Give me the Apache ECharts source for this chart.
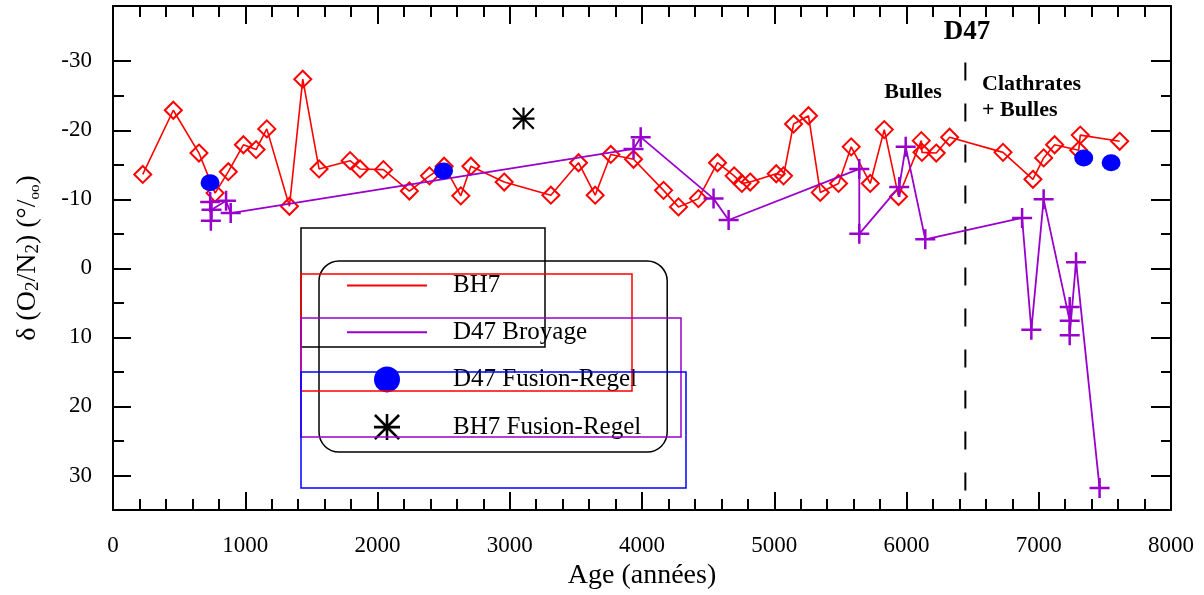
<!DOCTYPE html>
<html>
<head>
<meta charset="utf-8">
<script src="https://cdn.jsdelivr.net/npm/echarts@6/dist/echarts.min.js"></script>
<style>html,body{margin:0;padding:0;background:#fff}#c{width:1204px;height:595px}</style>
</head>
<body>
<div id="c"></div>
<script>
// ---- data ----
const bh7Age = [225,456,650,772,872,986,1082,1163,1334,1435,1558,1793,1868,2045,2241,2393,2504,2630,2706,2958,3311,3520,3646,3764,3936,4163,4276,4427,4571,4697,4755,4818,5015,5070,5146,5259,5348,5486,5582,5726,5832,5940,6112,6117,6225,6326,6730,6956,7037,7120,7302,7314,7612];
const bh7Val = [-13.6,-22.9,-16.7,-10.9,-14.0,-17.9,-17.2,-20.2,-9.0,-27.4,-14.4,-15.6,-14.4,-14.3,-11.2,-13.4,-14.8,-10.5,-14.8,-12.5,-10.6,-15.3,-10.6,-16.5,-15.8,-11.3,-8.9,-10.1,-15.3,-13.4,-12.3,-12.5,-13.7,-13.4,-20.9,-22.1,-11.0,-12.3,-17.6,-12.3,-20.1,-10.4,-18.5,-16.8,-16.7,-19.0,-16.8,-12.9,-16.0,-17.9,-17.1,-19.3,-18.4];
const broyAge = [735,740,745,855,890,3936,3990,4541,4655,5643,5643,5945,5994,6142,6874,6944,7037,7234,7234,7234,7282,7460];
const broyVal = [-9.6,-6.9,-8.5,-9.8,-8.0,-17.3,-19.0,-10.1,-7.0,-14.4,-5.0,-11.8,-17.6,-4.2,-7.3,8.9,-10.0,7.6,5.6,9.7,-0.9,31.8];
const fusD47Age = [734,2499,7340,7547];
const fusD47Val = [-12.4,-14.1,-16.0,-15.3];
const fusBH7Age = [3104];
const fusBH7Val = [-21.7];
const d47Boundary = [6445];
const boundaryY = [-29.8, 35];
const yMajor = [-30,-20,-10,0,10,20,30];
const yMinor = [-25,-15,-5,5,15,25];
const seriesNames = ['BH7','D47 Broyage','D47 Fusion-Regel','BH7 Fusion-Regel'];

const pairs = (a,b) => a.map((x,i)=>[x,b[i]]);
const FONT = 'Liberation Serif';
const RED = '#ff0000', PURPLE = '#9900cc', BLUE = '#0000ff';
const plusPath = 'path://M0,7H7V0H9V7H16V9H9V16H7V9H0Z';
const starPath = 'path://M9,0H11V20H9Z M0,9H20V11H0Z M1.4,0L20,18.6L18.6,20L0,1.4Z M18.6,0L20,1.4L1.4,20L0,18.6Z';

const chart = echarts.init(document.getElementById('c'), null, {renderer:'canvas'});

function yAx(pos, vals, len, labels, name) {
  return {
    type:'value', min:-38, max:35, inverse:true, position:pos,
    axisLine:{show:len>15, lineStyle:{color:'#000', width:2}},
    axisTick:{show:true, inside:true, length:len, customValues:vals, lineStyle:{color:'#000', width:2}},
    axisLabel:{show:!!labels, customValues:vals, margin:21, fontSize:23, fontFamily:FONT, color:'#000'},
    splitLine:{show:false},
    name: name || '', nameLocation:'middle', nameRotate:90, nameGap:70,
    nameTextStyle:{color:'#000', fontFamily:FONT, fontSize:28,
      rich:{
        t:{fontFamily:FONT, fontSize:28, lineHeight:30, color:'#000'},
        s:{fontFamily:FONT, fontSize:19, lineHeight:10, verticalAlign:'bottom', color:'#000'},
        o:{fontFamily:FONT, fontSize:15, lineHeight:12, verticalAlign:'bottom', color:'#000'}
      }}
  };
}
function xAx(pos, labels, name) {
  return {
    type:'value', min:0, max:8000, interval:1000, position:pos,
    axisLine:{show:true, onZero:false, lineStyle:{color:'#000', width:2}},
    axisTick:{show:true, inside:true, length:18, lineStyle:{color:'#000', width:2}},
    minorTick:{show:true, splitNumber:5, length:11, lineStyle:{color:'#000', width:2}},
    axisLabel:{show:labels, margin:24, fontSize:23, fontFamily:FONT, color:'#000', formatter:v=>String(v)},
    splitLine:{show:false}, minorSplitLine:{show:false},
    name: name || '', nameLocation:'middle', nameGap:52,
    nameTextStyle:{color:'#000', fontFamily:FONT, fontSize:28}
  };
}

const option = {
  animation:false,
  backgroundColor:'#fff',
  grid:{left:113, right:33, top:6, bottom:81, containLabel:false},
  xAxis:[ xAx('bottom', true, 'Age (années)'), xAx('top', false) ],
  yAxis:[
    yAx('left', yMajor, 18, true, '{t|δ (O}{s|2}{t|/N}{s|2}{t|) (°/}{o|oo}{t|)}'),
    yAx('left', yMinor, 11, false),
    yAx('right', yMajor, 20, false),
    yAx('right', yMinor, 10, false)
  ],
  legend:{
    orient:'vertical', left:319, top:261,
    padding:[12,26,12,28], itemGap:21.7, itemWidth:80, itemHeight:26,
    borderColor:'#000', borderWidth:1.5, borderRadius:20,
    backgroundColor:'rgba(255,255,255,0)',
    textStyle:{fontFamily:FONT, fontSize:25, color:'#000', padding:[0,0,0,21]},
    data:[
      {name:seriesNames[0], icon:'path://M0,0H80V2H0Z', itemStyle:{color:RED, borderWidth:0, opacity:1}},
      {name:seriesNames[1], icon:'path://M0,0H80V2H0Z', itemStyle:{color:PURPLE, borderWidth:0, opacity:1}},
      {name:seriesNames[2], icon:'circle', itemStyle:{color:BLUE, borderWidth:0, opacity:1}},
      {name:seriesNames[3], icon:starPath, itemStyle:{color:'#000', borderWidth:0, opacity:1}}
    ]
  },
  series:[
    {
      name:seriesNames[0], type:'line', data:pairs(bh7Age,bh7Val),
      symbol:'diamond', symbolSize:17,
      lineStyle:{color:RED, width:1.6},
      itemStyle:{color:'rgba(255,255,255,0)', borderColor:RED, borderWidth:2},
      z:3
    },
    {
      name:seriesNames[1], type:'line', data:pairs(broyAge,broyVal),
      symbol:plusPath, symbolSize:20,
      lineStyle:{color:PURPLE, width:1.8},
      itemStyle:{color:PURPLE},
      z:4
    },
    {
      name:seriesNames[2], type:'scatter', data:pairs(fusD47Age,fusD47Val),
      symbol:'circle', symbolSize:[19,17],
      itemStyle:{color:BLUE, opacity:1}, z:5
    },
    {
      name:seriesNames[3], type:'scatter', data:pairs(fusBH7Age,fusBH7Val),
      symbol:starPath, symbolSize:22,
      itemStyle:{color:'#000', opacity:1}, z:5
    },
    {
      name:'limite', type:'line', data:boundaryY.map(y=>[d47Boundary[0], y]),
      symbol:'none', lineStyle:{color:'#000', width:2, type:[18,23]},
      z:2, silent:true
    }
  ],
  graphic:[
    {type:'rect', shape:{x:301, y:228, width:244, height:119}, style:{fill:'none', stroke:'#000', lineWidth:1.5}, z:10},
    {type:'rect', shape:{x:301, y:274, width:331, height:117}, style:{fill:'none', stroke:RED, lineWidth:1.5}, z:10},
    {type:'rect', shape:{x:301, y:318, width:380, height:119}, style:{fill:'none', stroke:PURPLE, lineWidth:1.5}, z:10},
    {type:'rect', shape:{x:301, y:372, width:385, height:116}, style:{fill:'none', stroke:BLUE, lineWidth:1.5}, z:10},
    {type:'text', x:967, y:32, style:{text:'D47', font:'bold 27px "Liberation Serif"', fill:'#000', align:'center', verticalAlign:'middle'}, z:10},
    {type:'text', x:913, y:92, style:{text:'Bulles', font:'bold 22px "Liberation Serif"', fill:'#000', align:'center', verticalAlign:'middle'}, z:10},
    {type:'text', x:982, y:84, style:{text:'Clathrates', font:'bold 22px "Liberation Serif"', fill:'#000', align:'left', verticalAlign:'middle'}, z:10},
    {type:'text', x:982, y:110, style:{text:'+ Bulles', font:'bold 22px "Liberation Serif"', fill:'#000', align:'left', verticalAlign:'middle'}, z:10}
  ]
};
chart.setOption(option);
</script>
</body>
</html>
